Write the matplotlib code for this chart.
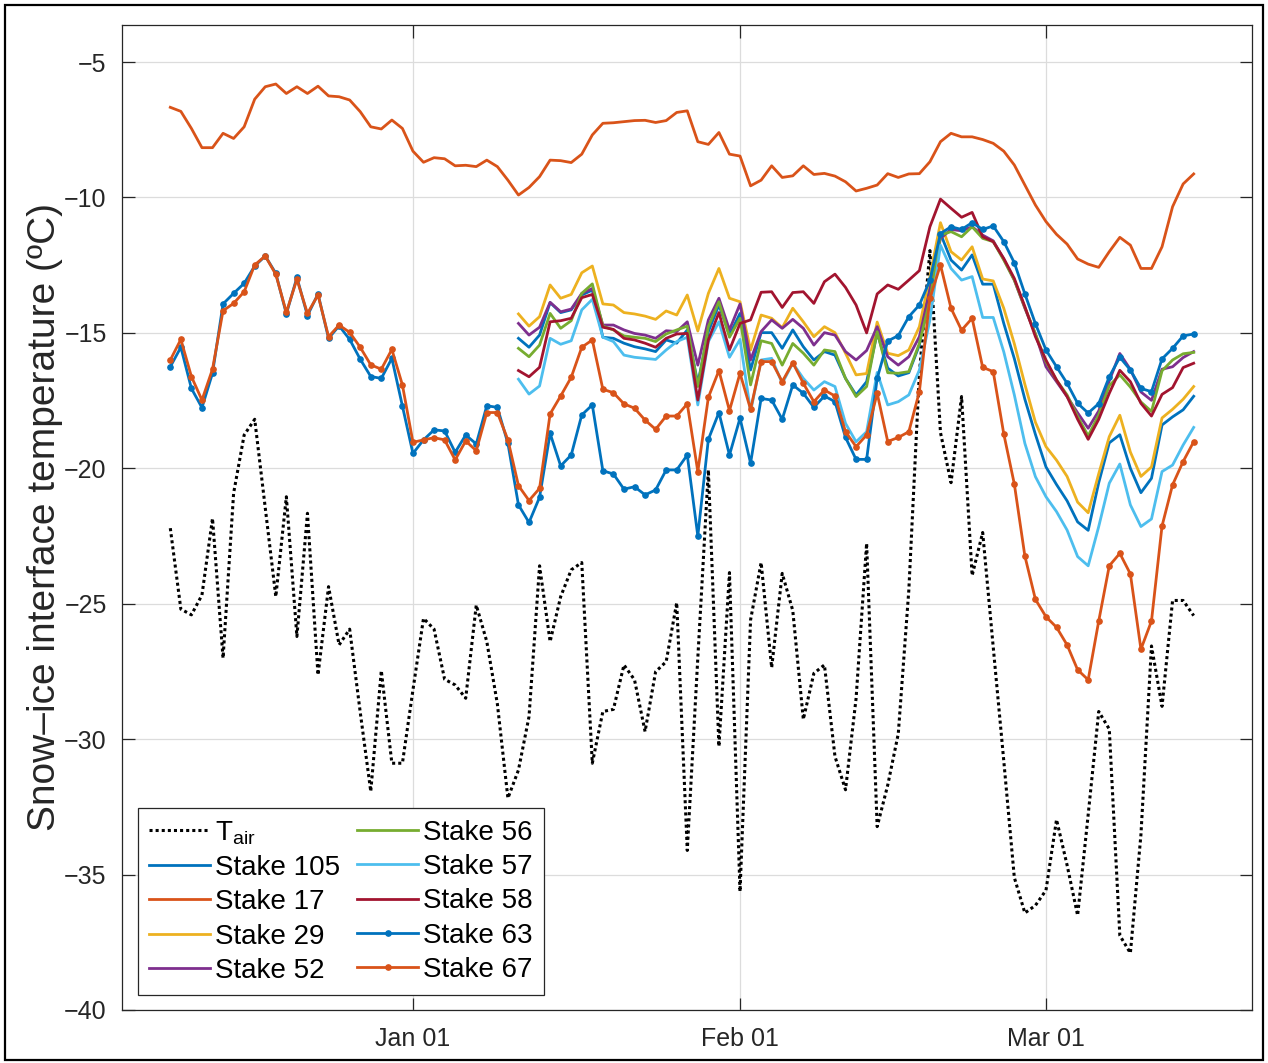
import numpy as np
import matplotlib
matplotlib.use('Agg')
import matplotlib.pyplot as plt
import matplotlib.dates as mdates
from matplotlib.patches import Rectangle

plt.rcParams['font.family'] = ['Liberation Sans', 'DejaVu Sans']
plt.rcParams['mathtext.fontset'] = 'custom'
plt.rcParams['mathtext.rm'] = 'Liberation Sans'

# daily values, 2019-12-09 .. 2020-03-15
start = np.datetime64('2019-12-09')
days = start + np.arange(98)
late_days = days[33:]

t_air = [-22.21, -25.20, -25.41, -24.68, -21.85, -27.01, -20.92, -18.77, -18.19, -21.46,
         -24.74, -21.05, -26.21, -21.66, -27.63, -24.37, -26.52, -25.94, -29.00, -31.93,
         -27.47, -30.89, -30.89, -28.18, -25.54, -25.94, -27.79, -28.00, -28.49, -25.05,
         -26.40, -28.70,
         -32.18, -31.14, -29.17, -23.60, -26.40, -24.74, -23.75, -23.48, -30.89, -28.98,
         -28.90, -27.26, -27.81, -29.72, -27.51, -27.14, -24.96, -34.11, -27.00, -20.06,
         -30.27, -23.85, -35.63, -25.60, -23.48, -27.36, -23.88, -25.25, -29.27, -27.57,
         -27.26, -30.64, -31.87, -28.50, -22.77,
         -33.23, -31.70, -29.80, -24.50, -16.50, -11.96, -18.68, -20.53, -17.35, -23.96,
         -22.37, -26.60, -30.80, -35.11, -36.42, -36.14, -35.58, -32.97, -34.65, -36.51,
         -32.79, -28.98, -29.63, -37.25, -37.90, -33.53, -26.56, -28.79, -24.88, -24.88,
         -25.44]

stake17 = [-6.67, -6.82, -7.45, -8.16, -8.16, -7.63, -7.82, -7.39, -6.37, -5.91,
           -5.81, -6.16, -5.91, -6.16, -5.89, -6.25, -6.28, -6.40, -6.83, -7.39,
           -7.47, -7.14, -7.45, -8.29, -8.70, -8.53, -8.57, -8.83, -8.81, -8.86,
           -8.62, -8.86, -9.36, -9.91, -9.63, -9.23, -8.62, -8.64, -8.71, -8.40,
           -7.69, -7.26, -7.24, -7.20, -7.16, -7.15, -7.23, -7.16, -6.86, -6.80,
           -7.94, -8.04, -7.60, -8.40, -8.47, -9.57, -9.36, -8.83, -9.26, -9.20,
           -8.83, -9.15, -9.11, -9.21, -9.42, -9.76, -9.66, -9.54, -9.12, -9.26,
           -9.13, -9.12, -8.68, -7.94, -7.63, -7.76, -7.76, -7.86, -8.00, -8.29,
           -8.80, -9.54, -10.28, -10.89, -11.36, -11.72, -12.27, -12.46, -12.58, -12.00,
           -11.47, -11.76, -12.62, -12.62, -11.82, -10.34, -9.50, -9.13]

stake63 = [-16.25, -15.53, -17.05, -17.76, -16.49, -13.93, -13.54, -13.17, -12.53, -12.16,
           -12.80, -14.30, -12.95, -14.36, -13.56, -15.20, -14.74, -15.24, -15.97, -16.61,
           -16.68, -15.94, -17.70, -19.45, -18.95, -18.58, -18.62, -19.41, -18.77, -19.10,
           -17.69, -17.75, -19.08,
           -21.35, -22.00, -21.07, -18.71, -19.91, -19.51, -18.03, -17.66, -20.09, -20.21,
           -20.77, -20.68, -20.98, -20.80, -20.06, -20.06, -19.51, -22.50, -18.93, -17.94,
           -19.51, -18.15, -19.81, -17.42, -17.48, -18.19, -16.92, -17.23, -17.75, -17.33,
           -17.54, -18.86, -19.67,
           -19.67, -16.68, -15.30, -15.10, -14.40, -13.97, -13.05, -11.33, -11.08, -11.18,
           -10.93, -11.18, -11.05, -11.63, -12.41, -13.56, -14.66, -15.63, -16.25, -16.86,
           -17.60, -17.96, -17.61, -16.62, -15.90, -16.37, -17.05, -17.17, -15.96, -15.57,
           -15.11, -15.04]

stake67 = [-16.00, -15.24, -16.61, -17.48, -16.34, -14.18, -13.91, -13.48, -12.49, -12.16,
           -12.84, -14.24, -13.02, -14.28, -13.60, -15.14, -14.71, -14.98, -15.53, -16.18,
           -16.34, -15.61, -16.92, -19.04, -18.95, -18.87, -18.95, -19.69, -18.99, -19.35,
           -17.94, -17.94, -18.95,
           -20.64, -21.19, -20.74, -17.99, -17.33, -16.64, -15.53, -15.26, -17.08, -17.21,
           -17.62, -17.78, -18.22, -18.56, -18.07, -18.07, -17.62, -20.12, -17.38, -16.39,
           -17.87, -16.49, -17.82, -16.06, -16.06, -16.80, -16.10, -16.86, -17.54, -17.11,
           -17.33, -18.65, -19.20,
           -18.77, -17.23, -19.01, -18.86, -18.65, -17.17, -13.72, -12.49, -14.09, -14.90,
           -14.46, -16.27, -16.43, -18.73, -20.58, -23.24, -24.84, -25.48, -25.87, -26.52,
           -27.44, -27.81, -25.64, -23.60, -23.14, -23.90, -26.68, -25.64, -22.13, -20.61,
           -19.75, -19.02]

# stakes logged from 2020-01-11 onward
stake105 = [-15.20, -15.53, -15.08, -13.88, -14.25, -14.15, -13.60, -13.42, -15.16, -15.20,
            -15.38, -15.51, -15.59, -15.69, -15.26, -15.38, -14.89, -16.86, -14.95, -13.97,
            -15.08, -14.28, -16.37, -14.99, -14.99, -15.57, -14.89, -15.51, -16.00, -15.69,
            -15.82, -16.68, -17.29,
            -16.80, -15.00, -16.30, -16.59, -16.47, -15.45, -13.17, -11.33, -12.31, -12.68,
            -12.12, -13.20, -13.20, -14.65, -15.95, -17.45, -18.75, -19.95, -20.60, -21.20,
            -21.98, -22.29, -20.53, -19.06, -18.76, -20.00, -20.90, -20.37, -18.40, -18.10,
            -17.84, -17.34]

stake29 = [-14.30, -14.75, -14.40, -13.23, -13.72, -13.58, -12.78, -12.53, -13.93, -13.97,
           -14.25, -14.30, -14.38, -14.50, -14.19, -14.34, -13.60, -14.93, -13.54, -12.62,
           -13.72, -13.85, -15.63, -14.34, -14.46, -14.81, -14.09, -14.59, -15.14, -14.77,
           -14.99, -15.75, -16.55,
           -16.50, -14.60, -15.75, -15.84, -15.63, -14.77, -12.92, -10.93, -12.00, -12.31,
           -11.82, -13.01, -13.08, -14.09, -15.40, -16.90, -18.30, -19.20, -19.70, -20.30,
           -21.25, -21.64, -20.20, -18.83, -18.04, -19.40, -20.30, -19.95, -18.14, -17.82,
           -17.45, -16.98]

stake52 = [-14.65, -15.08, -14.79, -13.87, -14.22, -14.12, -13.54, -13.36, -14.71, -14.71,
           -14.89, -15.02, -15.08, -15.20, -14.92, -14.95, -14.59, -16.19, -14.52, -13.72,
           -14.89, -13.93, -16.00, -14.95, -14.52, -14.83, -14.50, -14.83, -15.45, -14.99,
           -15.08, -15.69, -16.00,
           -15.65, -14.77, -15.88, -16.19, -15.88, -15.14, -13.42, -11.51, -11.18, -11.23,
           -11.08, -11.39, -11.60, -12.28, -13.05, -14.09, -15.04, -16.25, -16.80, -17.35,
           -17.95, -18.52, -17.88, -16.77, -15.76, -16.35, -17.18, -17.49, -16.34, -16.25,
           -15.91, -15.69]

stake56 = [-15.57, -15.88, -15.45, -14.28, -14.83, -14.55, -13.54, -13.19, -14.75, -14.89,
           -15.11, -15.16, -15.20, -15.32, -15.04, -14.89, -14.75, -16.98, -14.77, -13.85,
           -15.16, -14.46, -16.92, -15.29, -15.39, -16.19, -15.39, -15.75, -16.19, -15.63,
           -15.69, -16.68, -17.35,
           -16.98, -14.96, -16.47, -16.49, -16.43, -15.39, -13.79, -11.39, -11.26, -11.45,
           -11.08, -11.51, -11.63, -12.31, -13.05, -14.06, -15.04, -16.06, -16.74, -17.29,
           -18.09, -18.80, -18.03, -16.95, -16.55, -17.00, -17.55, -17.90, -16.40, -16.00,
           -15.77, -15.72]

stake57 = [-16.71, -17.26, -16.96, -15.20, -15.42, -15.29, -14.15, -13.76, -15.16, -15.32,
           -15.82, -15.90, -15.94, -15.98, -15.63, -15.32, -15.16, -17.66, -15.32, -14.59,
           -15.90, -15.24, -17.91, -16.00, -15.94, -16.86, -16.12, -16.68, -17.11, -16.80,
           -16.98, -18.34, -19.02,
           -18.65, -16.46, -17.66, -17.54, -17.29, -16.37, -14.52, -11.76, -12.62, -13.05,
           -12.92, -14.43, -14.43, -15.70, -17.29, -19.08, -20.31, -21.05, -21.60, -22.28,
           -23.26, -23.60, -22.15, -20.55, -19.84, -21.35, -22.15, -21.87, -20.12, -19.88,
           -19.14, -18.49]

stake58 = [-16.39, -16.62, -16.27, -14.59, -14.55, -14.46, -13.70, -13.58, -14.79, -14.87,
           -15.20, -15.26, -15.38, -15.53, -15.20, -15.04, -15.02, -17.48, -15.26, -14.25,
           -15.63, -14.65, -14.52, -13.50, -13.48, -14.06, -13.51, -13.48, -13.91, -13.11,
           -12.83, -13.32, -13.97,
           -15.00, -13.56, -13.23, -13.39, -13.05, -12.70, -11.08, -10.06, -10.40, -10.73,
           -10.55, -11.45, -11.63, -12.25, -12.99, -14.03, -15.14, -16.00, -16.74, -17.35,
           -18.19, -18.93, -18.19, -17.23, -16.38, -16.80, -17.60, -18.07, -17.27, -17.02,
           -16.28, -16.12]

blue = (0, 0.447, 0.741)
orange = (0.850, 0.325, 0.098)
yellow = (0.929, 0.694, 0.125)
purple = (0.494, 0.184, 0.556)
green = (0.466, 0.674, 0.188)
cyan = (0.301, 0.745, 0.933)
maroon = (0.635, 0.078, 0.184)

fig = plt.figure(figsize=(12.68, 10.63), dpi=100)
ax = fig.add_axes([0.0962, 0.0499, 0.8912, 0.9266])

lw = 2.0
ax.plot(days, t_air, color='black', lw=2.2, linestyle=(0, (1, 1)), label='T$_{\\rm air}$')
ax.plot(late_days, stake105, color=blue, lw=lw, label='Stake 105')
ax.plot(days, stake17, color=orange, lw=lw, label='Stake 17')
ax.plot(late_days, stake29, color=yellow, lw=lw, label='Stake 29')
ax.plot(late_days, stake52, color=purple, lw=lw, label='Stake 52')
ax.plot(late_days, stake56, color=green, lw=lw, label='Stake 56')
ax.plot(late_days, stake57, color=cyan, lw=lw, label='Stake 57')
ax.plot(late_days, stake58, color=maroon, lw=lw, label='Stake 58')
ax.plot(days, stake63, color=blue, lw=lw, marker='o', ms=3.8, label='Stake 63')
ax.plot(days, stake67, color=orange, lw=lw, marker='o', ms=3.8, label='Stake 67')

d0 = mdates.date2num(start)
ax.set_xlim(d0 - 4.58, d0 + 102.53)
ax.set_ylim(-40, -3.63)
ax.set_yticks(np.arange(-40, -4, 5))
ax.xaxis.set_major_locator(mdates.MonthLocator(bymonth=[1, 2, 3]))
ax.xaxis.set_major_formatter(mdates.DateFormatter('%b %d'))

ax.grid(True, color='#dcdcdc', lw=0.9)
ax.set_axisbelow(True)
for s in ax.spines.values():
    s.set_color('#262626')
    s.set_linewidth(0.9)
ax.tick_params(direction='in', length=9, width=0.9, top=True, right=True,
               labelsize=18, colors='#262626')
ax.tick_params(axis='x', pad=12)
ax.tick_params(axis='y', pad=11)

ax.set_ylabel('Snow\u2013ice interface temperature (\u00baC)', fontsize=28, color='#262626')
ax.yaxis.set_label_coords(-0.052, 0.5)

leg = ax.legend(ncol=2, loc='lower left', bbox_to_anchor=(0.0142, 0.0152),
                fontsize=20, fancybox=False, framealpha=1, edgecolor='#262626',
                handlelength=2.2, handletextpad=0.18, columnspacing=0.6,
                labelspacing=0.3, borderpad=0.4, borderaxespad=0)
leg.get_frame().set_linewidth(0.9)

# frame around the whole figure
fig.add_artist(Rectangle((0.004, 0.003), 0.992, 0.9925, transform=fig.transFigure,
                         fill=False, lw=1.6, ec='black'))

fig.savefig('out.png', dpi=100)
